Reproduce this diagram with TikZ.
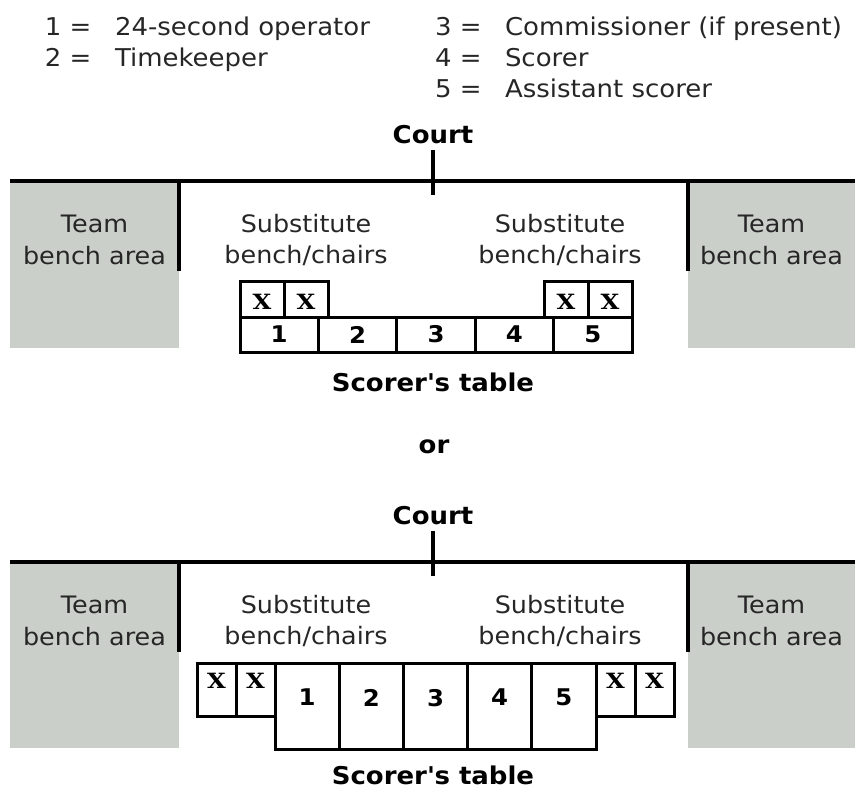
\documentclass[tikz,border=0pt]{standalone}
\usepackage{fontspec}
\setmainfont{DejaVu Sans}[FakeStretch=1.06]
\newfontfamily\seatfont{DejaVu Serif}[FakeStretch=1.15]
\usetikzlibrary{positioning}
\definecolor{benchgray}{RGB}{203,207,202}
\definecolor{txtgray}{RGB}{38,38,38}

\begin{document}
\begin{tikzpicture}[
x=1pt, y=-1pt,
every node/.style={inner sep=0pt, outer sep=0pt, text=txtgray, font=\fontsize{24}{31.5}\selectfont},
legend/.style={anchor=base west, font=\fontsize{24.5}{30}\selectfont},
heading/.style={anchor=base, text=black, font=\fontsize{24.5}{30}\selectfont\bfseries},
courtline/.style={line width=4.5pt, draw=black},
tick/.style={line width=4pt, draw=black},
bench/.style={fill=benchgray, anchor=north west, minimum width=169pt},
area/.style={align=center},
cell/.style={draw=black, line width=3pt, text=black, font=\fontsize{23}{23}\selectfont\bfseries},
toprow/.style={cell, minimum width=78.4pt, minimum height=35pt},
topseat/.style={cell, minimum width=44pt, minimum height=36pt, text height=20.2pt,
  font=\seatfont\fontsize{21}{21}\selectfont\bfseries},
botrow/.style={cell, minimum width=64.2pt, minimum height=86pt, text depth=17pt},
botseat/.style={cell, minimum width=39pt, minimum height=53pt, text depth=17pt,
  font=\seatfont\fontsize{21}{21}\selectfont\bfseries}
]
\useasboundingbox (0,0) rectangle (855,790);

% legend
\node[legend] (k1) at (45,35) {1 =};
\node[legend] (v1) at (115,35) {24-second operator};
\node[legend] (k2) at (45,66) {2 =};
\node[legend] (v2) at (115,66) {Timekeeper};
\node[legend] (k3) at (435,35) {3 =};
\node[legend] (v3) at (505,35) {Commissioner (if present)};
\node[legend] (k4) at (435,66) {4 =};
\node[legend] (v4) at (505,66) {Scorer};
\node[legend] (k5) at (435,97) {5 =};
\node[legend] (v5) at (505,97) {Assistant scorer};

% first layout
\node[bench, minimum height=167pt] (benchLA) at (10,181) {};
\node[bench, minimum width=167pt, minimum height=167pt] (benchRA) at (688,181) {};
\draw[courtline] (10,181) -- (855,181);
\draw[courtline] (179,181) -- (179,271);
\draw[courtline] (688,181) -- (688,271);
\node[heading] (courtA) at (433,143) {Court};
\draw[tick] ([yshift=-7pt]courtA.south) -- ([yshift=-52pt]courtA.south);

\node[area] (teamLA) at (94.5,240) {Team\\bench area};
\node[area] (subLA) at (306,240) {Substitute\\bench/chairs};
\node[area] (subRA) at (560,240) {Substitute\\bench/chairs};
\node[area] (teamRA) at (771.5,240) {Team\\bench area};

\node[toprow] (t1) at (279.2,334.5) {1};
\node[toprow, right=0pt of t1] (t2) {2};
\node[toprow, right=0pt of t2] (t3) {3};
\node[toprow, right=0pt of t3] (t4) {4};
\node[toprow, right=0pt of t4] (t5) {5};
\node[topseat, above right=0pt and 0pt of t1.north west] (sx1) {X};
\node[topseat, right=0pt of sx1] (sx2) {X};
\node[topseat, above left=0pt and 0pt of t5.north east] (sx4) {X};
\node[topseat, left=0pt of sx4] (sx3) {X};
\node[heading] (tableA) at (433,391) {Scorer\textquotesingle s table};

\node[heading] (or) at (434,453) {or};

% second layout
\node[bench, minimum height=186pt] (benchLB) at (10,562) {};
\node[bench, minimum width=167pt, minimum height=186pt] (benchRB) at (688,562) {};
\draw[courtline] (10,562) -- (855,562);
\draw[courtline] (179,562) -- (179,652);
\draw[courtline] (688,562) -- (688,652);
\node[heading] (courtB) at (433,524) {Court};
\draw[tick] ([yshift=-7pt]courtB.south) -- ([yshift=-52pt]courtB.south);

\node[area] (teamLB) at (94.5,621) {Team\\bench area};
\node[area] (subLB) at (306,621) {Substitute\\bench/chairs};
\node[area] (subRB) at (560,621) {Substitute\\bench/chairs};
\node[area] (teamRB) at (771.5,621) {Team\\bench area};

\node[botrow] (b1) at (307.1,706) {1};
\node[botrow, right=0pt of b1] (b2) {2};
\node[botrow, right=0pt of b2] (b3) {3};
\node[botrow, right=0pt of b3] (b4) {4};
\node[botrow, right=0pt of b4] (b5) {5};
\node[botseat, below left=0pt and 0pt of b1.north west] (bx2) {X};
\node[botseat, left=0pt of bx2] (bx1) {X};
\node[botseat, below right=0pt and 0pt of b5.north east] (bx3) {X};
\node[botseat, right=0pt of bx3] (bx4) {X};
\node[heading] (tableB) at (433,784) {Scorer\textquotesingle s table};

\end{tikzpicture}
\end{document}
